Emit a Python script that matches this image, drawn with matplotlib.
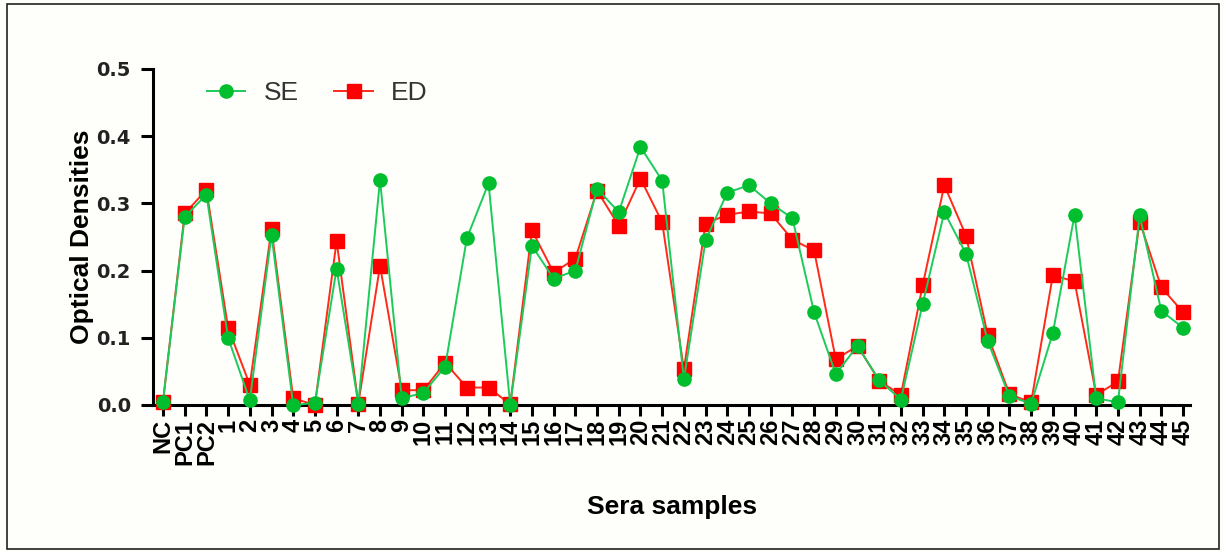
import numpy as np
import matplotlib
matplotlib.use("Agg")
import matplotlib.pyplot as plt
from matplotlib.patches import Rectangle

samples = ["NC", "PC1", "PC2"] + [str(i) for i in range(1, 46)]
se = [0.005, 0.280, 0.313, 0.100, 0.007, 0.253, 0.000, 0.003, 0.203, 0.002,
      0.335, 0.010, 0.018, 0.057, 0.248, 0.330, 0.000, 0.237, 0.188, 0.200,
      0.322, 0.287, 0.384, 0.334, 0.038, 0.245, 0.316, 0.327, 0.300, 0.278,
      0.138, 0.046, 0.088, 0.037, 0.008, 0.150, 0.287, 0.225, 0.095, 0.013,
      0.002, 0.107, 0.283, 0.010, 0.004, 0.282, 0.140, 0.115]
ed = [0.005, 0.285, 0.320, 0.115, 0.030, 0.262, 0.010, 0.000, 0.244, 0.002,
      0.207, 0.022, 0.022, 0.063, 0.026, 0.026, 0.001, 0.260, 0.197, 0.218,
      0.319, 0.267, 0.337, 0.272, 0.053, 0.270, 0.283, 0.288, 0.285, 0.246,
      0.230, 0.068, 0.088, 0.036, 0.015, 0.178, 0.327, 0.252, 0.104, 0.016,
      0.004, 0.193, 0.184, 0.015, 0.035, 0.273, 0.175, 0.138]
yticks = [0.0, 0.1, 0.2, 0.3, 0.4, 0.5]

FONT = "Liberation Sans"
plt.rcParams.update({"font.family": FONT, "axes.linewidth": 2.2})

BG = "#FEFEFA"
fig = plt.figure(figsize=(12.25, 5.53), dpi=100, facecolor=BG)
fig.patches.append(Rectangle((7 / 1225, 4 / 553), 1212 / 1225, 545 / 553,
                             transform=fig.transFigure, fill=False,
                             ec="#222222", lw=1.2))
ax = fig.add_axes([153 / 1225, 1 - 405 / 553, (1190 - 153) / 1225, 336 / 553])
ax.set_facecolor(BG)

x = np.arange(len(samples))
ax.plot(x, ed, "-", color="#FF2A1A", lw=1.4, marker="s", ms=10,
        mfc="#FF0000", mec="#FF0000", label="ED", clip_on=False, zorder=3)
ax.plot(x, se, "-", color="#1CCB5C", lw=1.4, marker="o", ms=9.5,
        mfc="#00BE2E", mec="#00BE2E", label="SE", clip_on=False, zorder=4)

ax.set_xlim(-0.46, 47.32)
ax.set_ylim(0, 0.5)
ax.set_yticks(yticks)
ax.set_yticklabels([f"{v:.1f}" for v in yticks],
                   fontsize=14, fontweight="bold", family="DejaVu Sans",
                   color="#222222")
ax.set_xticks(x)
ax.set_xticklabels(samples, rotation=90, fontsize=17, fontweight="bold")
ax.tick_params(axis="y", direction="out", length=9, width=2.2, pad=7)
ax.tick_params(axis="x", direction="out", length=8, width=2.2, pad=2)
for s in ("top", "right"):
    ax.spines[s].set_visible(False)

ax.set_ylabel("Optical Densities", fontsize=19, fontweight="bold", labelpad=2)
fig.text(672 / 1225, 1 - 507 / 553, "Sera samples", fontsize=19,
         fontweight="bold", ha="center", va="center")

h, l = ax.get_legend_handles_labels()
leg = fig.legend(h[::-1], l[::-1], ncol=2, frameon=False, loc="center left",
                 bbox_to_anchor=(207 / 1225, 1 - 93 / 553),
                 bbox_transform=fig.transFigure, borderpad=0, borderaxespad=0,
                 fontsize=19, handlelength=1.45, handletextpad=0.7,
                 columnspacing=1.35)
for t in leg.get_texts():
    t.set_color("#333333")

fig.savefig("out.png", dpi=100, facecolor=BG)
